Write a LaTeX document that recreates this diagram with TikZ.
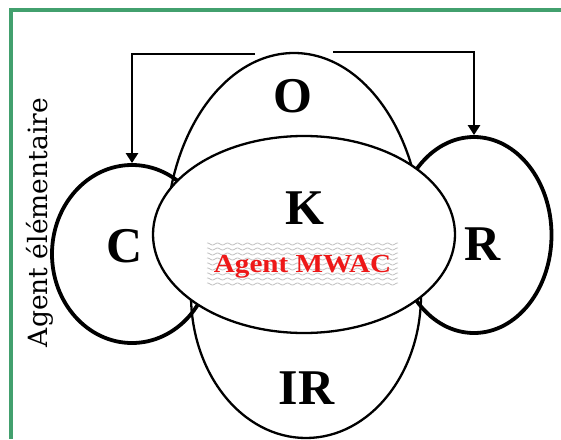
\documentclass[tikz,border=0pt]{standalone}
\usepackage{fontspec}
\setmainfont{Liberation Serif}
\newfontfamily\dejavuserif{DejaVu Serif}
\usetikzlibrary{shapes.geometric,arrows.meta}
\definecolor{bordergreen}{RGB}{66,160,110}
\definecolor{mwacred}{RGB}{238,24,24}
\definecolor{wavegray}{RGB}{195,195,195}
\tikzset{
  part/.style={draw, ellipse, inner sep=0pt, line width=2.3pt},
  thickpart/.style={part, line width=3.8pt},
  letter/.style={font=\fontsize{50}{50}\selectfont\bfseries, inner sep=0pt},
  link/.style={line width=2.6pt, -{Triangle[width=12pt,length=10pt]}},
  wave/.style={draw=wavegray, line width=0.8pt},
  frame/.style={draw=bordergreen, line width=3.5pt},
}
\begin{document}
\begin{tikzpicture}[x=1pt,y=-1pt]
\useasboundingbox (0,0) rectangle (561,439);
% frame
\coordinate (ftr) at (561,10);
\coordinate (ftl) at (11,10);
\coordinate (fbl) at (11,439);
\draw[frame] (ftr) -- (ftl) -- (fbl);
% upper and lower lobes
\begin{scope}
  \clip (0,0) rectangle (561,240);
  \node[part, minimum width=256pt, minimum height=374pt] (O) at (294,240) {};
\end{scope}
\begin{scope}
  \clip (0,250) rectangle (561,439);
  \node[part, minimum width=230pt, minimum height=286pt] (IR) at (306,295) {};
\end{scope}
% side lobes
\node[thickpart, minimum width=160pt, minimum height=178pt] (C) at (132,254) {};
\node[thickpart, minimum width=155pt, minimum height=196pt] (R) at (474,235) {};
% central ellipse
\node[part, fill=white, minimum width=302pt, minimum height=197pt] (K) at (304,234.5) {};
% wavy background of the label
\foreach \yy in {244,249,...,284}
  \draw[wave] plot[domain=207:398, samples=160, smooth] (\x, {\yy + 1.0*sin(36*\x)});
% labels
\node[letter] (Ot) at (293,96) {O};
\node[letter] (Kt) at (305,208) {K};
\node[letter] (Ct) at (125,246) {C};
\node[letter] (Rt) at (483,244) {R};
\node[letter] (IRt) at (306.5,388) {IR};
\node[font=\fontsize{26}{26}\selectfont\bfseries, text=mwacred, inner sep=0pt, anchor=base] (mwac) at (302.5,272) {\scalebox{1.12}[1]{Agent MWAC}};
\node[rotate=90, anchor=base, inner sep=0pt] (side) at (47,222.5) {\resizebox{249pt}{!}{\dejavuserif Agent élémentaire}};
% connectors
\coordinate (ls) at (255,54);
\coordinate (rs) at (333,52);
\draw[link] (ls) -| (C.north);
\draw[link] (rs) -| (R.north);
\end{tikzpicture}
\end{document}
